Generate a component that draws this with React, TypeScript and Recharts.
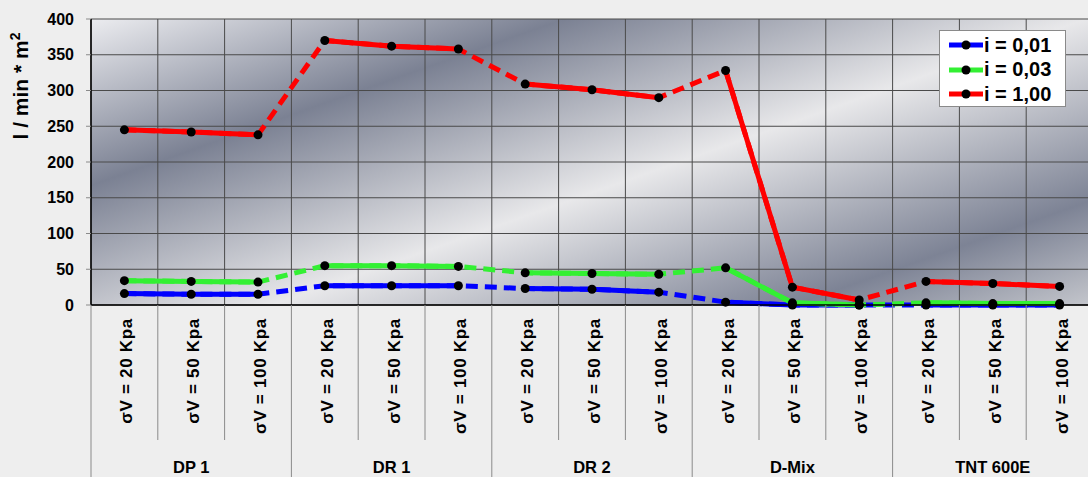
import React from 'react'
import { LineChart, Line, XAxis, YAxis, CartesianGrid } from 'recharts'

const groups = ['DP 1', 'DR 1', 'DR 2', 'D-Mix', 'TNT 600E']
const pressures = ['σV = 20 Kpa', 'σV = 50 Kpa', 'σV = 100 Kpa']
const yTicks = [0, 50, 100, 150, 200, 250, 300, 350, 400]

const i001 = [16, 15, 15, 27, 27, 27, 23, 22, 18, 4, 0, 0, 0, 0, 0]
const i003 = [34, 33, 32, 55, 55, 54, 45, 44, 43, 52, 3, 0, 3, 2, 2]
const i100 = [245, 242, 238, 370, 362, 358, 309, 301, 290, 328, 25, 7, 33, 30, 26]

const series = [
  { key: 'a', name: 'i = 0,01', color: '#0000ff', values: i001 },
  { key: 'b', name: 'i = 0,03', color: '#33f033', values: i003 },
  { key: 'c', name: 'i = 1,00', color: '#ff0000', values: i100 },
]

// one row per category; extra keys hold the value only inside its own group
const data = groups.flatMap((g, gi) =>
  pressures.map((p, pi) => {
    const idx = gi * 3 + pi
    const row: Record<string, any> = { id: `c${idx}`, group: g, cat: p }
    series.forEach((s) => {
      row[s.key] = s.values[idx]
      groups.forEach((_, gj) => {
        row[`${s.key}_${gj}`] = gj === gi ? s.values[idx] : null
      })
    })
    return row
  })
)

const W = 1093
const H = 477
const LEFT = 91
const TOP = 19
const AXIS_H = 172
const STEP = (W - LEFT) / data.length
const AXIS_Y = H - AXIS_H
const FONT = '"Liberation Sans", Arial, sans-serif'

const XTick = (props: any) => {
  const { x, payload } = props
  const idx = payload.index
  const left = x - STEP / 2
  const right = x + STEP / 2
  return (
    <g>
      <line x1={left} y1={AXIS_Y} x2={left} y2={idx % 3 === 0 ? H : 440} stroke="#8a8a8a" />
      {idx === data.length - 1 && <line x1={right} y1={AXIS_Y} x2={right} y2={H} stroke="#8a8a8a" />}
      <text
        x={x + 8}
        y={318}
        transform={`rotate(-90, ${x + 8}, 318)`}
        textAnchor="end"
        fontFamily={FONT}
        fontWeight="bold"
        fontSize={17}
        letterSpacing={0.7}
        fill="#000"
      >
        {data[idx].cat}
      </text>
      {idx % 3 === 1 && (
        <text x={x} y={473} textAnchor="middle" fontFamily={FONT} fontWeight="bold" fontSize={16.5} fill="#000">
          {data[idx].group}
        </text>
      )}
    </g>
  )
}

const YLabel = () => (
  <text
    x={28}
    y={86}
    transform="rotate(-90, 28, 86)"
    textAnchor="middle"
    fontFamily={FONT}
    fontWeight="bold"
    fontSize={21}
    fill="#000"
  >
    l / min * m<tspan dy={-8} fontSize={14}>2</tspan>
  </text>
)

const LegendBox = () => (
  <div
    style={{
      position: 'absolute',
      left: 939,
      top: 30,
      width: 125,
      height: 75,
      background: '#fff',
      border: '1px solid #8a8a8a',
      fontFamily: FONT,
      fontWeight: 'bold',
      fontSize: 20,
    }}
  >
    {series.map((s, i) => (
      <div key={s.key} style={{ position: 'absolute', left: 8, top: 2 + i * 24.5, height: 24, display: 'flex', alignItems: 'center' }}>
        <svg width={36} height={12}>
          <line x1={1} y1={6} x2={35} y2={6} stroke={s.color} strokeWidth={5} />
          <circle cx={18} cy={6} r={4.5} fill="#000" />
        </svg>
        <span>{s.name}</span>
      </div>
    ))}
  </div>
)

export default function App() {
  return (
    <div style={{ position: 'relative', width: 1088, height: 477, overflow: 'hidden', background: '#eeeeee' }}>
      <style>{'body{margin:0}'}</style>
      <LineChart width={W} height={H} data={data} margin={{ top: TOP, right: 0, bottom: 0, left: 0 }}>
        <defs>
          <linearGradient id="plotBg" gradientUnits="userSpaceOnUse" x1={91} y1={2} x2={296} y2={585}>
            <stop offset="0" stopColor="#f7f7f9" />
            <stop offset="0.28" stopColor="#7b8193" />
            <stop offset="0.56" stopColor="#e8e8ea" />
            <stop offset="0.84" stopColor="#7d8395" />
            <stop offset="1" stopColor="#c4c6cc" />
          </linearGradient>
        </defs>
        <CartesianGrid
          fill="url(#plotBg)"
          fillOpacity={1}
          stroke="#4a4a4a"
          strokeDasharray=""
          verticalCoordinatesGenerator={({ offset }: any) =>
            Array.from({ length: data.length + 1 }, (_, k) => (offset?.left ?? LEFT) + k * STEP)
          }
        />
        <XAxis
          dataKey="id"
          height={AXIS_H}
          interval={0}
          padding={{ left: STEP / 2, right: STEP / 2 }}
          axisLine={{ stroke: '#000', strokeWidth: 1.5 }}
          tickLine={false}
          tick={<XTick />}
        />
        <YAxis
          width={LEFT}
          domain={[0, 400]}
          ticks={yTicks}
          interval={0}
          tickSize={5}
          tickMargin={12}
          axisLine={{ stroke: '#000', strokeWidth: 1.5 }}
          tickLine={{ stroke: '#8a8a8a' }}
          tick={{ fill: '#000', fontFamily: FONT, fontWeight: 'bold', fontSize: 16 }}
          label={<YLabel />}
        />
        {series.flatMap((s) => [
          <Line
            key={`${s.key}-dash`}
            dataKey={s.key}
            stroke={s.color}
            strokeWidth={5}
            strokeDasharray="12 7"
            dot={false}
            activeDot={false}
            isAnimationActive={false}
          />,
          ...groups.map((_, gi) => (
            <Line
              key={`${s.key}-${gi}`}
              dataKey={`${s.key}_${gi}`}
              stroke={s.color}
              strokeWidth={5}
              dot={false}
              activeDot={false}
              connectNulls={false}
              isAnimationActive={false}
            />
          )),
        ])}
        {series.map((s) => (
          <Line
            key={`${s.key}-dots`}
            dataKey={s.key}
            stroke="none"
            dot={{ r: 4.5, fill: '#000', stroke: 'none' }}
            activeDot={false}
            isAnimationActive={false}
          />
        ))}
      </LineChart>
      <LegendBox />
    </div>
  )
}
